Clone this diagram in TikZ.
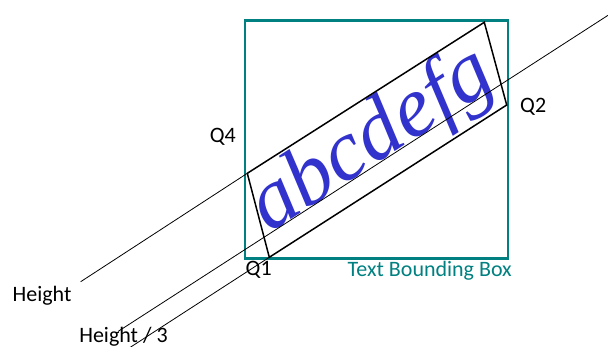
\documentclass[tikz,border=0pt]{standalone}
\usepackage{fontspec}
\setmainfont{Carlito}
\newfontfamily\glyphfont{Liberation Serif Italic}
\usetikzlibrary{positioning,calc}
\definecolor{tealbox}{RGB}{0,128,128}
\definecolor{glyphblue}{RGB}{50,50,205}
\tikzset{
  tbox/.style={draw=tealbox,line width=2.6pt},
  qbox/.style={draw=black,line width=1.5pt,line join=miter},
  thinln/.style={draw=black,line width=0.8pt},
  lbl/.style={font=\fontsize{22}{26}\selectfont,inner sep=0pt,anchor=base},
  glyphs/.style={font=\fontsize{86}{96}\glyphfont,text=glyphblue,
    inner sep=0pt,anchor=base,rotate=32.9},
}

\begin{document}
\begin{tikzpicture}[x=1pt,y=-1pt]
  \useasboundingbox (0,0) rectangle (608,347);
  % corners of the rotated text box
  \coordinate (q1) at (269.3,257.3);
  \coordinate (q2) at (506.7,105);
  \coordinate (q3) at (484.3,22.3);
  \coordinate (q4) at (247.3,173.3);
  % free ends of the guide lines
  \coordinate (hgtend) at (80.7,281.7);
  \coordinate (baseA) at (118,331.5);
  \coordinate (baseB) at (608.5,15);
  \coordinate (lowend) at (130,347.5);

  \node[glyphs] (word) at (384,159.5) {abcdefg};

  \draw[tbox] (245,20.5) rectangle (508,258.7);
  \draw[qbox] (q1) -- (q2) -- (q3) -- (q4) -- cycle;

  \draw[thinln] (hgtend) -- (q4);
  \draw[thinln] (baseA) -- (baseB);
  \draw[thinln] (lowend) -- (q1);

  \node[lbl] (hgt) at (42,301.5) {Height};
  \node[lbl] (hgt3) at (123.5,342.5) {Height / 3};
  \node[lbl] (lq1) at (258.7,275.9) {Q1};
  \node[lbl] (lq2) at (533.2,112.5) {Q2};
  \node[lbl] (lq4) at (222.8,142.5) {Q4};
  \node[lbl,text=tealbox] (tbb) at (429.7,276.5) {Text Bounding Box};
\end{tikzpicture}
\end{document}
